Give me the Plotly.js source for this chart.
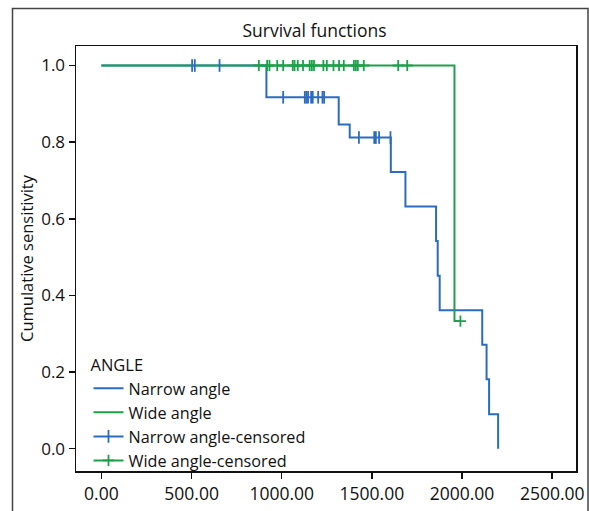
<!DOCTYPE html>
<html>
<head>
<meta charset="utf-8">
<script src="https://cdn.plot.ly/plotly-3.0.1.min.js"></script>
<style>html,body{margin:0;padding:0;background:#fff;}#chart{width:589px;height:511px;}</style>
</head>
<body>
<div id="chart"></div>
<script>
// Narrow angle survival steps
const narrowTimes = [0, 915, 1316, 1377, 1605, 1686, 1856, 1865, 1876, 2112, 2136, 2150, 2200];
const narrowSurv  = [1.0, 0.917, 0.846, 0.812, 0.722, 0.632, 0.542, 0.451, 0.361, 0.271, 0.181, 0.090, 0.0];
// Wide angle survival steps
const wideTimes = [0, 1958, 1991];
const wideSurv  = [1.0, 0.333, 0.333];
// Censored observations
const narrowCensTimes = [503, 518, 655, 1008, 1128, 1137, 1146, 1163, 1172, 1202, 1226, 1235, 1428, 1513, 1522, 1540, 1603];
const narrowCensSurv  = [1.0, 1.0, 1.0, 0.917, 0.917, 0.917, 0.917, 0.917, 0.917, 0.917, 0.917, 0.917, 0.812, 0.812, 0.812, 0.812, 0.812];
const wideCensTimes = [873, 919, 932, 975, 1008, 1061, 1071, 1089, 1118, 1155, 1167, 1179, 1231, 1250, 1287, 1318, 1344, 1400, 1411, 1422, 1455, 1646, 1696, 1991];
const wideCensSurv  = [1,1,1,1,1,1,1,1,1,1,1,1,1,1,1,1,1,1,1,1,1,1,1,0.333];
const xTicks = [0, 500, 1000, 1500, 2000, 2500];
const yTicks = [0, 0.2, 0.4, 0.6, 0.8, 1.0];

const BLUE = '#2b6cc0';
const GREEN = '#1ea04a';
const FONT = 'Open Sans, sans-serif';

// separate isolated points by nulls so no connecting line is drawn
function gapped(arr){ const out=[]; arr.forEach((v,i)=>{ if(i) out.push(null); out.push(v); }); return out; }

const traces = [
  {x: narrowTimes, y: narrowSurv, mode:'lines', line:{shape:'hv', color:BLUE, width:2}, name:'Narrow angle'},
  {x: wideTimes, y: wideSurv, mode:'lines', line:{shape:'hv', color:GREEN, width:2}, name:'Wide angle'},
  {x: gapped(narrowCensTimes), y: gapped(narrowCensSurv), mode:'lines+markers', connectgaps:false,
   line:{color:BLUE, width:2}, marker:{symbol:'line-ns', size:9, color:BLUE, line:{color:BLUE, width:1.8}}, name:'Narrow angle-censored'},
  {x: gapped(wideCensTimes), y: gapped(wideCensSurv), mode:'lines+markers', connectgaps:false,
   line:{color:GREEN, width:2}, marker:{symbol:'cross-thin', size:8, color:GREEN, line:{color:GREEN, width:1.8}}, name:'Wide angle-censored'}
];

const layout = {
  width: 589, height: 511,
  margin: {l:76, r:13, t:46, b:40},
  paper_bgcolor:'#fff', plot_bgcolor:'#fff',
  font: {family: FONT, size: 16, color:'#111'},
  title: {text:'Survival functions', x:0.477, xref:'paper', y:1, yref:'container', yanchor:'top', pad:{t:25}, font:{family:FONT, size:17.5, color:'#111'}},
  xaxis: {range:[-141, 2632], tickvals: xTicks, ticktext: xTicks.map(v=>v.toFixed(2)),
    showline:true, mirror:true, linecolor:'#111', linewidth:1.5, ticks:'outside', ticklen:6, tickcolor:'#111', tickwidth:1.5,
    showgrid:false, zeroline:false, tickfont:{family:FONT, size:17.5}},
  yaxis: {range:[-0.0584, 1.0509], tickvals: yTicks, ticktext: yTicks.map(v=>v.toFixed(1)),
    showline:true, mirror:true, linecolor:'#111', linewidth:1.5, ticks:'outside', ticklen:6, tickcolor:'#111', tickwidth:1.5,
    showgrid:false, zeroline:false, tickfont:{family:FONT, size:17},
    title:{text:'Cumulative sensitivity', font:{family:FONT, size:16.5}, standoff:3}},
  legend: {x:0.025, y:-0.016, xanchor:'left', yanchor:'bottom', bgcolor:'rgba(0,0,0,0)',
    title:{text:'ANGLE', font:{family:FONT, size:16.5}}, font:{family:FONT, size:16.2}, tracegroupgap:0, itemwidth:30},
  showlegend: true,
  shapes: [
    {type:'rect', xref:'paper', yref:'paper', x0:-0.127, x1:1.024, y0:-0.2, y1:1.088, line:{color:'#444', width:1.5}, fillcolor:'rgba(0,0,0,0)', layer:'below'}
  ]
};

Plotly.newPlot('chart', traces, layout, {displayModeBar:false, staticPlot:true});
</script>
</body>
</html>
